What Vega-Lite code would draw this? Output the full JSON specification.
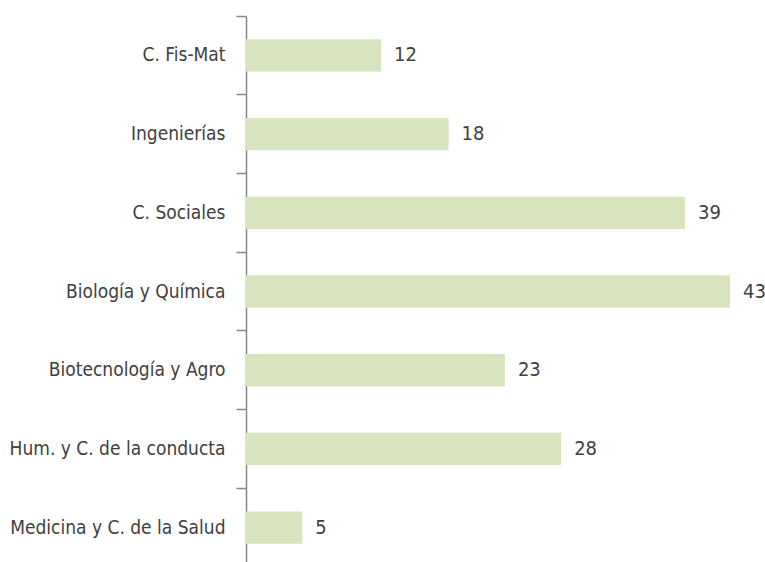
{
  "$schema": "https://vega.github.io/schema/vega-lite/v6.json",
  "autosize": "none",
  "width": 484,
  "height": 551,
  "padding": {"left": 246, "top": 16, "right": 35, "bottom": 0},
  "background": "white",
  "config": {"view": {"stroke": null}},
  "data": {"values": [
    {"area": "C. Fis-Mat", "value": 12},
    {"area": "Ingenierías", "value": 18},
    {"area": "C. Sociales", "value": 39},
    {"area": "Biología y Química", "value": 43},
    {"area": "Biotecnología y Agro", "value": 23},
    {"area": "Hum. y C. de la conducta", "value": 28},
    {"area": "Medicina y C. de la Salud", "value": 5}
  ]},
  "encoding": {
    "y": {"field": "area", "type": "nominal", "sort": null,
      "scale": {"paddingInner": 0, "paddingOuter": 0},
      "axis": {"title": null, "bandPosition": 0, "domainColor": "#868686", "domainWidth": 1.5,
        "tickColor": "#868686", "tickWidth": 1.5, "tickSize": 10, "labelPadding": 11,
        "labelFont": "DejaVu Sans Condensed, sans-serif", "labelFontSize": 19, "labelColor": "#404040",
        "labelLimit": 400, "grid": false}},
    "x": {"field": "value", "type": "quantitative", "scale": {"domain": [0, 43]}, "axis": null}
  },
  "layer": [
    {"mark": {"type": "bar", "color": "#d7e4bd", "height": {"band": 0.41}}},
    {"mark": {"type": "text", "align": "left", "dx": 13, "font": "DejaVu Sans Condensed, sans-serif", "fontSize": 20, "color": "#404040"},
     "encoding": {"text": {"field": "value", "type": "quantitative"}}}
  ]
}
